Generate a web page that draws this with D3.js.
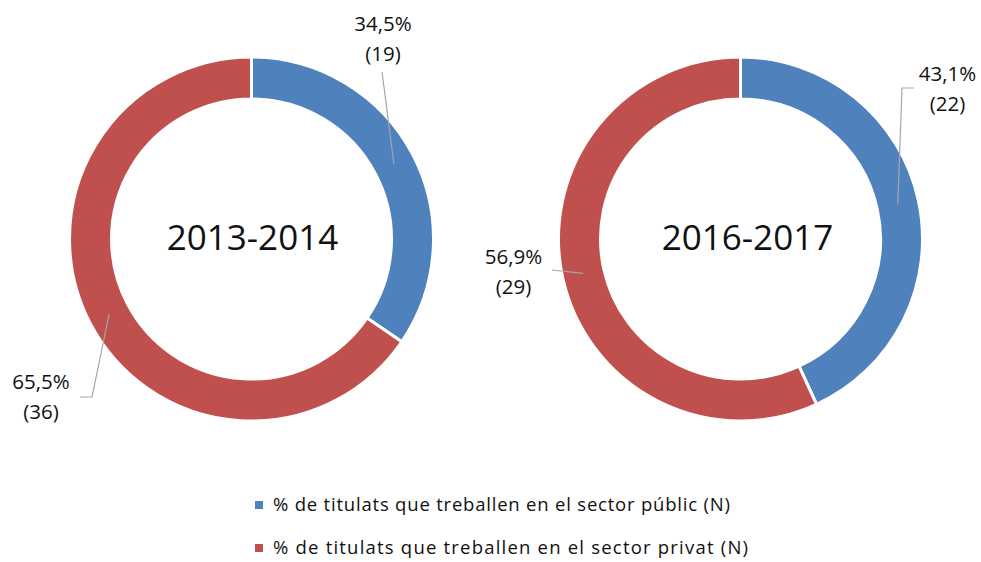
<!DOCTYPE html>
<html>
<head>
<meta charset="utf-8">
<script src="https://cdn.jsdelivr.net/npm/d3@7"></script>
<style>
  body { margin: 0; background: #fff; }
  text { font-family: "Open Sans", "Liberation Sans", sans-serif; fill: #111; }
</style>
</head>
<body>
<svg id="chart" width="981" height="562"></svg>
<script>
// data
const periods = ["2013-2014", "2016-2017"];
const sectors = ["% de titulats que treballen en el sector públic (N)",
                 "% de titulats que treballen en el sector privat (N)"];
const publicN = [19, 22];
const privatN = [36, 29];
const publicPct = ["34,5%", "43,1%"];
const privatPct = ["65,5%", "56,9%"];

const colors = ["#4F81BD", "#C0504D"];

// layout per donut: center + label/leader offsets (relative to center)
const layout = [
  { cx: 251.5, cy: 239,
    labels: [
      { tx: 131.5, ty: -215, pts: [[130.5, -167]] },
      { tx: -210.5, ty: 143, pts: [[-159.5, 158], [-171.5, 158]] }
    ] },
  { cx: 740.5, cy: 239,
    labels: [
      { tx: 207, ty: -165, pts: [[161.5, -151], [173.5, -151]] },
      { tx: -227, ty: 18, pts: [[-188.5, 31]] }
    ] }
];

const outerR = 182, innerR = 140;

const svg = d3.select("#chart");

const pie = d3.pie().sort(null).value(d => d.n);
const arc = d3.arc().innerRadius(innerR).outerRadius(outerR);
const midArc = d3.arc().innerRadius((innerR + outerR) / 2).outerRadius((innerR + outerR) / 2);

periods.forEach((p, i) => {
  const L = layout[i];
  const slices = [
    { n: publicN[i], pct: publicPct[i] },
    { n: privatN[i], pct: privatPct[i] }
  ];
  const g = svg.append("g").attr("transform", `translate(${L.cx},${L.cy})`);

  const arcs = pie(slices);
  g.selectAll("path.slice")
    .data(arcs)
    .enter().append("path")
    .attr("class", "slice")
    .attr("d", arc)
    .attr("fill", (d, j) => colors[j])
    .attr("stroke", "#fff")
    .attr("stroke-width", 3);

  // center title
  g.append("text")
    .attr("text-anchor", "middle")
    .attr("dy", "0.35em")
    .attr("x", i === 0 ? 1 : 7)
    .attr("y", -1)
    .style("font-size", "35px")
    .text(p);

  // leader lines + labels
  arcs.forEach((d, j) => {
    const lab = L.labels[j];
    const c = midArc.centroid(d);
    g.append("path")
      .attr("d", d3.line()([c, ...lab.pts]))
      .attr("fill", "none")
      .attr("stroke", "#a6a6a6")
      .attr("stroke-width", 1.2);
    const t = g.append("text")
      .attr("text-anchor", "middle")
      .style("font-size", "20.5px");
    t.append("tspan").attr("x", lab.tx).attr("y", lab.ty).attr("dy", "0.35em").text(d.data.pct);
    t.append("tspan").attr("x", lab.tx).attr("y", lab.ty + 30).attr("dy", "0.35em").text(`(${d.data.n})`);
  });
});

// legend
const legend = svg.append("g").attr("transform", "translate(255,505)");
sectors.forEach((s, j) => {
  const row = legend.append("g").attr("transform", `translate(0,${j * 43})`);
  row.append("rect")
    .attr("x", 0).attr("y", -4).attr("width", 8).attr("height", 8)
    .attr("fill", colors[j]);
  row.append("text")
    .attr("x", 18).attr("dy", "0.35em")
    .style("font-size", "18.5px")
    .attr("textLength", j === 0 ? 457 : 475)
    .attr("lengthAdjust", "spacing")
    .text(s);
});
</script>
</body>
</html>
